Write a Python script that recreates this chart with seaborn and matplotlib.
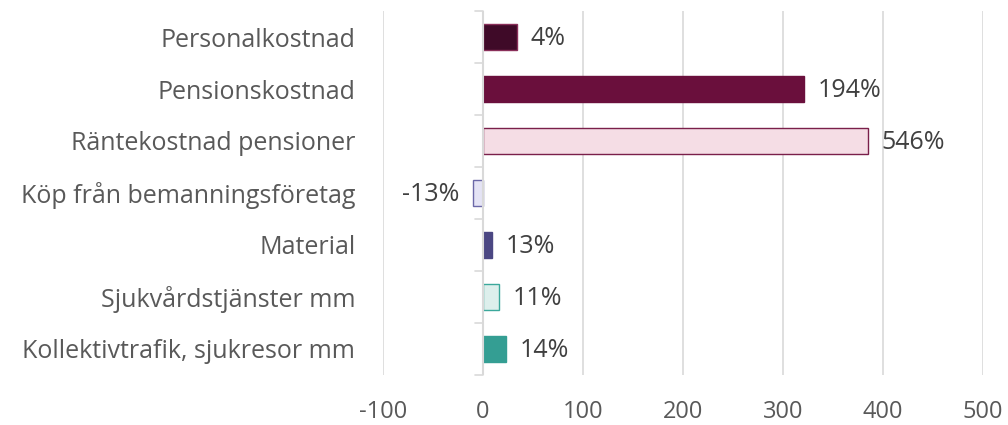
import matplotlib
matplotlib.use("Agg")
import matplotlib.pyplot as plt
import seaborn as sns
import pandas as pd

categories = ["Personalkostnad", "Pensionskostnad", "Räntekostnad pensioner",
              "Köp från bemanningsföretag", "Material", "Sjukvårdstjänster mm",
              "Kollektivtrafik, sjukresor mm"]
values = [34, 321, 385, -10, 9, 16, 23]
labels = ["4%", "194%", "546%", "-13%", "13%", "11%", "14%"]
fills = ["#3F0A28", "#6A0F3C", "#F5DDE5", "#E4E3F5", "#4B4783", "#DDEFEC", "#349E93"]
edges = ["#8A2F5A", "#6A0F3C", "#7A1F4A", "#6B68A8", "#4B4783", "#3BA89B", "#349E93"]
xticks = [-100, 0, 100, 200, 300, 400, 500]

sns.set_style("white")
plt.rcParams['font.family'] = ['Open Sans', 'DejaVu Sans']

df = pd.DataFrame({"cat": categories, "val": values})
fig = plt.figure(figsize=(10.08, 4.25), dpi=100)
ax = fig.add_axes([0.38, 0.118, 0.595, 0.856])
sns.barplot(data=df, y="cat", x="val", hue="cat", palette=fills, orient="h",
            width=0.5, saturation=1, legend=False, ax=ax,
            order=categories, hue_order=categories)
for p, ec in zip(ax.patches, edges):
    p.set_edgecolor(ec)
    p.set_linewidth(1.0)

ax.set_xlim(-100, 500)
ax.set_xticks(xticks)
ax.set_xticklabels([str(t) for t in xticks])
ax.set_ylim(len(categories) - 0.5, -0.5)
ax.grid(axis="x", color="#D9D9D9", linewidth=1.2)
ax.set_axisbelow(True)
for s in ax.spines.values():
    s.set_visible(False)
ax.axvline(0, color="#D9D9D9", linewidth=1.5, zorder=1)
for b in [i + 0.5 for i in range(-1, len(categories))]:
    ax.plot([-8, 0], [b, b], color="#D9D9D9", linewidth=1.2, clip_on=False, zorder=1)
ax.set_xlabel("")
ax.set_ylabel("")
ax.tick_params(axis="x", length=0, labelsize=17, labelcolor="#595959", pad=18)
ax.tick_params(axis="y", length=0, labelsize=18, labelcolor="#595959", pad=20)

for i, (v, t) in enumerate(zip(values, labels)):
    if v >= 0:
        ax.annotate(t, (v, i), xytext=(10, -1), textcoords="offset points",
                    ha="left", va="center", fontsize=18, color="#404040")
    else:
        ax.annotate(t, (v, i), xytext=(-10, -1), textcoords="offset points",
                    ha="right", va="center", fontsize=18, color="#404040")

fig.savefig("out.png", dpi=100)
